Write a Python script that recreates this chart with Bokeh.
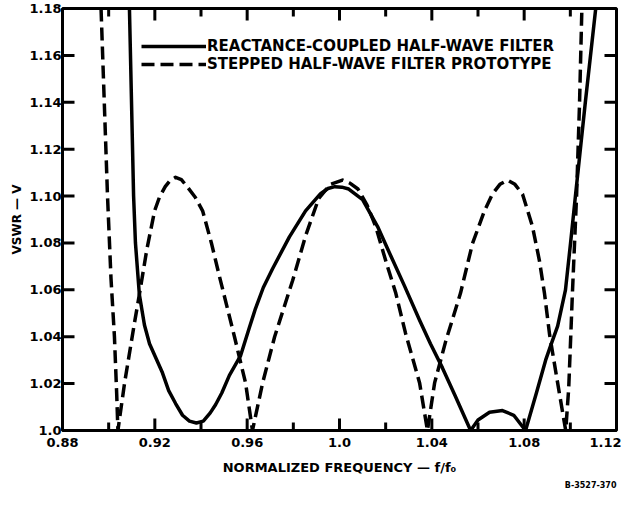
import math
from bokeh.plotting import figure
from bokeh.models import Range1d, FixedTicker, LinearAxis, Legend, LegendItem, Title
from bokeh.embed import file_html
from bokeh.resources import INLINE

# ---- data ----
solid_x = [0.909, 0.9108, 0.9116, 0.9133, 0.9155, 0.9177, 0.9233, 0.926, 0.929,
           0.932, 0.935, 0.938, 0.941, 0.944, 0.9463, 0.949, 0.9523, 0.9571, 0.961,
           0.9636, 0.967, 0.971, 0.9783, 0.9853, 0.9918, 0.995, 0.998, 1.001, 1.004,
           1.010, 1.0165, 1.022, 1.028, 1.0347, 1.0394, 1.0446, 1.050, 1.0568,
           1.060, 1.065, 1.0706, 1.0755, 1.0806, 1.0853, 1.0893, 1.0914, 1.0945,
           1.0979, 1.1001, 1.1022, 1.1065, 1.111]
solid_y = [1.18, 1.10, 1.08, 1.058, 1.045, 1.037, 1.0246, 1.017, 1.0115,
           1.0065, 1.004, 1.0032, 1.004, 1.0075, 1.011, 1.016, 1.0235, 1.0318, 1.044,
           1.052, 1.061, 1.069, 1.0826, 1.0937, 1.101, 1.1032, 1.104, 1.1038, 1.103,
           1.0985, 1.087, 1.075, 1.062, 1.047, 1.037, 1.0267, 1.015, 1.0,
           1.0045, 1.0078, 1.0085, 1.0065, 1.0, 1.016, 1.030, 1.036, 1.0445,
           1.060, 1.080, 1.10, 1.14, 1.18]

dashed_x = [0.8967, 0.8995, 0.901, 0.9025, 0.9035, 0.904, 0.9069, 0.9112, 0.9133,
            0.9165, 0.9199, 0.922, 0.9245, 0.9265, 0.929, 0.9315, 0.934, 0.9375,
            0.9407, 0.9445, 0.948, 0.9545, 0.9593, 0.9623, 0.9667, 0.9719, 0.9797,
            0.9853, 0.991, 0.996, 1.0013, 1.0045, 1.008, 1.012, 1.0157, 1.020,
            1.0244, 1.0286, 1.0347, 1.0381, 1.0412, 1.046, 1.0524, 1.0576, 1.0628,
            1.0662, 1.0695, 1.0728, 1.076, 1.0793, 1.0836, 1.0866, 1.0888, 1.091,
            1.0945, 1.098, 1.0993, 1.1009, 1.1027, 1.104, 1.105]
dashed_y = [1.18, 1.10, 1.065, 1.04, 1.015, 1.0, 1.0203, 1.046, 1.058,
            1.077, 1.0937, 1.0995, 1.104, 1.1065, 1.108, 1.107, 1.104, 1.0995,
            1.0937, 1.08, 1.0657, 1.040, 1.0203, 1.0, 1.0203, 1.040, 1.064,
            1.083, 1.099, 1.105, 1.1068, 1.1055, 1.103, 1.096, 1.087, 1.0725,
            1.0585, 1.0415, 1.0203, 1.0, 1.0203, 1.038, 1.0585, 1.0797, 1.0937,
            1.1008, 1.105, 1.1068, 1.105, 1.1008, 1.087, 1.0725, 1.0585, 1.041,
            1.0203, 1.0, 1.018, 1.0585, 1.10, 1.14, 1.18]

x_major = [0.88, 0.92, 0.96, 1.0, 1.04, 1.08, 1.12]
x_major_labels = ["0.88", "0.92", "0.96", "1.0", "1.04", "1.08", "1.12"]
x_minor = [0.90, 0.94, 0.98, 1.02, 1.06, 1.10]
y_major = [1.0, 1.02, 1.04, 1.06, 1.08, 1.10, 1.12, 1.14, 1.16, 1.18]
y_major_labels = ["1.0", "1.02", "1.04", "1.06", "1.08", "1.10", "1.12", "1.14", "1.16", "1.18"]

series_labels = ["REACTANCE-COUPLED HALF-WAVE FILTER", "STEPPED HALF-WAVE FILTER PROTOTYPE"]
x_title = "NORMALIZED FREQUENCY \u2014 f/f\u2080"
y_title = "VSWR \u2014 V"
code_text = "B-3527-370"

FONT = "DejaVu Sans"
X0, X1 = 0.88, 1.12
Y0, Y1 = 1.0, 1.18

W, H = 621, 491
BL, BR, BT, BB = 62, 5, 8, 61
FW, FH = W - BL - BR, H - BT - BB

p = figure(width=W, height=H, output_backend="svg", toolbar_location=None,
           x_range=Range1d(X0, X1), y_range=Range1d(Y0, Y1),
           min_border_left=BL, min_border_right=BR, min_border_top=BT, min_border_bottom=BB,
           x_axis_type=None, y_axis_type=None)
p.xgrid.visible = False
p.ygrid.visible = False
p.outline_line_color = "black"
p.outline_line_width = 3
p.background_fill_color = "white"
p.border_fill_color = "white"


def style_axis(ax, ticks, labels, standoff):
    ax.ticker = FixedTicker(ticks=ticks, minor_ticks=[])
    ax.axis_line_width = 3
    ax.axis_line_color = "black"
    ax.major_tick_in = 0
    ax.major_tick_out = 0
    ax.minor_tick_in = 0
    ax.minor_tick_out = 0
    ax.major_label_overrides = dict(zip(ticks, labels))
    ax.major_label_text_font = FONT
    ax.major_label_text_font_style = "bold"
    ax.major_label_text_font_size = "13px"
    ax.major_label_text_color = "black"
    ax.major_label_standoff = standoff
    ax.axis_label_text_font = FONT
    ax.axis_label_text_font_style = "bold"
    ax.axis_label_text_color = "black"


xb = LinearAxis()
style_axis(xb, x_major, x_major_labels, 7)
xb.axis_label = x_title
xb.axis_label_text_font_size = "13px"
xb.axis_label_standoff = 10
p.add_layout(xb, "below")

yl = LinearAxis()
style_axis(yl, y_major, y_major_labels, 1)
yl.axis_label = y_title
yl.axis_label_text_font_size = "12px"
yl.axis_label_standoff = 2
p.add_layout(yl, "left")

r_solid = p.line(solid_x, solid_y, line_color="black", line_width=3.5, line_join="round")
r_dash = p.line(dashed_x, dashed_y, line_color="black", line_width=3.5, line_dash="13 6",
                line_join="round")

# inward tick marks on all four sides, drawn as "dash" markers whose centre sits
# half a tick length inside the frame edge (pixel offsets converted to data units)
px_x = (X1 - X0) / FW
px_y = (Y1 - Y0) / FH
L_major, L_minor = 12, 8
TW = 3

p.scatter(x=x_major * 2,
          y=[Y0 + L_major / 2 * px_y] * len(x_major) + [Y1 - L_major / 2 * px_y] * len(x_major),
          marker="dash", size=L_major, angle=math.pi / 2,
          line_color="black", line_width=TW)
p.scatter(x=x_minor * 2,
          y=[Y0 + L_minor / 2 * px_y] * len(x_minor) + [Y1 - L_minor / 2 * px_y] * len(x_minor),
          marker="dash", size=L_minor, angle=math.pi / 2,
          line_color="black", line_width=TW)
p.scatter(x=[X0 + L_major / 2 * px_x] * len(y_major) + [X1 - L_major / 2 * px_x] * len(y_major),
          y=y_major * 2,
          marker="dash", size=L_major, angle=0,
          line_color="black", line_width=TW)

legend = Legend(items=[LegendItem(label=series_labels[0], renderers=[r_solid]),
                       LegendItem(label=series_labels[1], renderers=[r_dash])],
                location=(79, 357), glyph_width=65, glyph_height=12, label_height=12,
                label_standoff=1, spacing=0, padding=0, margin=0,
                border_line_color=None, background_fill_alpha=0,
                label_text_font=FONT, label_text_font_style="bold",
                label_text_font_size="15px", label_text_color="black")
p.add_layout(legend)

p.add_layout(Title(text=code_text, align="right", text_font=FONT, text_font_style="bold",
                   text_font_size="8px", text_color="black", standoff=2), "below")

open("out.html", "w").write(file_html(p, INLINE))
